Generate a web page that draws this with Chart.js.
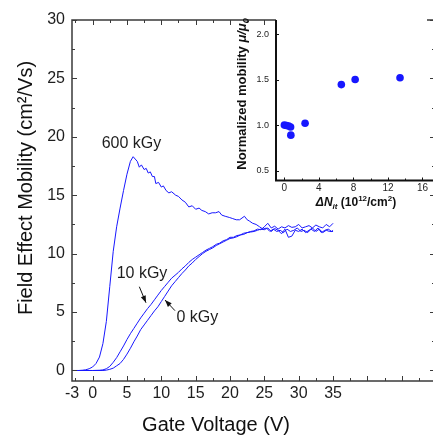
<!DOCTYPE html>
<html>
<head>
<meta charset="utf-8">
<script src="https://cdn.jsdelivr.net/npm/chart.js@4.4.1/dist/chart.umd.min.js"></script>
<style>
  html, body { margin: 0; padding: 0; background: #fff; overflow: hidden; }
  #wrap { position: relative; width: 433px; height: 435px; overflow: hidden; }
  #main  { position: absolute; left: 0;     top: 0; width: 437px; height: 435px; }
  #inset { position: absolute; left: 230px; top: 0; width: 207px; height: 215px; }
</style>
</head>
<body>
<div id="wrap">
  <canvas id="main" width="437" height="435"></canvas>
  <canvas id="inset" width="207" height="215"></canvas>
</div>
<script>
// ---- data: [gate voltage V, mobility cm2/Vs] ----
const mu0kGy = [
  [-3,0],[0,0],[1.5,0],[2,0.03],[2.5,0.1],[3,0.2],[3.5,0.4],[4,0.6],[4.5,0.95],[5,1.4],
  [5.5,1.9],[6,2.45],[6.5,2.95],[7,3.5],[7.5,3.9],[8,4.3],[8.5,4.7],[9,5.1],[9.5,5.45],[10,5.9],
  [10.5,6.35],[11,6.8],[11.5,7.25],[12,7.6],[12.5,7.95],[13,8.3],[13.5,8.6],[14,8.95],[14.5,9.2],[15,9.5],
  [15.5,9.75],[16,10.0],[16.5,10.2],[17,10.35],[17.5,10.5],[18,10.7],[18.5,10.85],[19,11.0],[19.5,11.15],[20,11.3],
  [20.5,11.35],[21,11.45],[21.5,11.6],[22,11.65],[22.5,11.8],[23,11.85],[23.5,11.9],[24,12.0],[24.5,12.1],[25,12.05],
  [25.5,12.2],[26,11.9],[26.5,12.15],[27,12.0],[27.5,11.7],[28,12.1],[28.5,11.4],[29,11.5],[29.5,12.0],[30,11.9],
  [30.5,12.1],[31,11.8],[31.5,12.0],[32,12.2],[32.5,11.9],[33,12.1],[33.5,11.8],[34,12.0],[34.5,11.9],[35,11.9]
];
const mu10kGy = [
  [-3,0],[0,0],[1,0.02],[1.5,0.05],[2,0.15],[2.5,0.35],[3,0.7],[3.5,1.1],[4,1.6],[4.5,2.1],
  [5,2.65],[5.5,3.15],[6,3.6],[6.5,4.05],[7,4.5],[7.5,4.9],[8,5.3],[8.5,5.65],[9,6.05],[9.5,6.45],
  [10,6.85],[10.5,7.2],[11,7.55],[11.5,7.9],[12,8.15],[12.5,8.4],[13,8.7],[13.5,8.95],[14,9.25],[14.5,9.5],
  [15,9.7],[15.5,9.9],[16,10.1],[16.5,10.3],[17,10.45],[17.5,10.6],[18,10.8],[18.5,10.9],[19,11.1],[19.5,11.2],
  [20,11.4],[20.5,11.4],[21,11.55],[21.5,11.6],[22,11.75],[22.5,11.8],[23,11.9],[23.5,11.95],[24,12.1],[24.5,12.05],
  [25,12.3],[25.5,12.6],[26,12.2],[26.5,12.35],[27,12.1],[27.5,12.3],[28,12.2],[28.5,12.4],[29,12.25],[29.5,12.3],
  [30,12.5],[30.5,12.2],[31,12.3],[31.5,12.4],[32,12.2],[32.5,12.45],[33,12.3],[33.5,12.2],[34,12.5],[34.5,12.3],[35,12.6]
];
const mu600kGy = [
  [-3,0],[-2,0],[-1.5,0.02],[-1,0.06],[-0.5,0.15],[0,0.3],[0.5,0.6],[1,1.15],[1.5,2.3],[2,4.2],
  [2.5,7.2],[3,10.2],[3.5,12.3],[4,13.9],[4.5,15.4],[5,16.8],[5.5,17.9],[5.9,18.3],[6.2,18.1],[6.5,17.9],
  [6.8,17.4],[7.1,17.6],[7.5,17.2],[7.8,17.3],[8.1,16.9],[8.4,17.0],[8.7,16.6],[9,16.6],[9.2,16.0],[9.6,16.1],
  [10,15.7],[10.3,15.8],[10.7,15.4],[11.1,15.2],[11.5,15.3],[12.1,15.0],[12.5,14.9],[13,14.6],[13.5,14.4],[14,14.0],
  [14.5,14.1],[15,13.8],[15.5,13.9],[15.9,13.7],[16.4,13.6],[16.9,13.4],[17.4,13.5],[17.9,13.5],[18.4,13.6],[18.8,13.3],
  [19.3,13.2],[19.9,13.1],[20.4,13.0],[20.9,12.9],[21.4,12.9],[22.1,13.2],[22.5,12.9],[22.8,12.8],[23.3,12.6],[23.8,12.5],
  [24.3,12.3],[24.8,12.1],[25.3,12.2],[25.8,11.9],[26.3,12.1],[26.8,11.9],[27.3,12.0],[27.8,11.8],[28.3,12.1],[28.8,11.9],
  [29.3,12.0],[29.8,12.2],[30.3,11.9],[30.8,12.0],[31.3,11.8],[31.8,12.1],[32.3,11.9],[32.8,12.2],[33.3,11.8],[33.8,12.0],
  [34.3,12.1],[34.8,11.9],[35,12.0]
];
const xTickVals = [-3, 0, 5, 10, 15, 20, 25, 30, 35];
const yTickVals = [0, 5, 10, 15, 20, 25, 30];

// inset: [delta N_it (1e12/cm2), normalized mobility]
const insetPts = [
  [0,1.0],[0.25,0.995],[0.5,0.99],[0.72,0.98],[0.75,0.89],[2.4,1.02],[6.6,1.445],[8.2,1.5],[13.4,1.52]
];
const insetXTicks = [0, 4, 8, 12, 16];
const insetYTicks = [0.5, 1.0, 1.5, 2.0];

// annotations in data units: text + arrows
const doseLabels = [
  { text: '600 kGy', x: 1.32, y: 19.05 },
  { text: '10 kGy',  x: 3.5,  y: 7.89 },
  { text: '0 kGy',   x: 12.21, y: 4.15 },
];
const doseArrows = [
  { from: [6.8, 7.17],  to: [7.77, 5.8] },
  { from: [11.99, 5.12], to: [10.54, 6.03] },
];

const FONT = '"Liberation Sans", Arial, sans-serif';
const BLUE = '#1717ff';
const INK  = '#1e1e1e';

const curve = (label, pts) => ({
  label,
  data: pts.map(([x, y]) => ({ x, y })),
  borderColor: BLUE,
  borderWidth: 1,
  pointRadius: 0,
  fill: false,
  tension: 0,
});

const tickSetter = vals => s => { s.ticks = vals.map(v => ({ value: v })); };

// frame with inward major/minor ticks on all four sides
const mainFrame = {
  id: 'mainFrame',
  afterDraw(chart) {
    const { ctx, chartArea: a, scales: { x, y } } = chart;
    ctx.save();
    ctx.strokeStyle = '#3a3a3a';
    ctx.lineWidth = 1.5;
    ctx.strokeRect(a.left, a.top, a.right - a.left, a.bottom - a.top);
    ctx.lineWidth = 1;
    ctx.beginPath();
    for (let v = -2.5; v <= 50; v += 2.5) {
      const len = v % 5 === 0 ? 5 : 3;
      const px = Math.round(x.getPixelForValue(v)) + 0.5;
      ctx.moveTo(px, a.bottom); ctx.lineTo(px, a.bottom - len);
      ctx.moveTo(px, a.top);    ctx.lineTo(px, a.top + len);
    }
    for (let v = 0; v <= 30; v += 2.5) {
      const len = v % 5 === 0 ? 5 : 3;
      const py = Math.round(y.getPixelForValue(v)) + 0.5;
      ctx.moveTo(a.left, py);  ctx.lineTo(a.left + len, py);
      ctx.moveTo(a.right, py); ctx.lineTo(a.right - len, py);
    }
    ctx.stroke();

    // axis titles
    ctx.fillStyle = '#111';
    ctx.font = `20px ${FONT}`;
    ctx.textAlign = 'center';
    ctx.textBaseline = 'alphabetic';
    ctx.fillText('Gate Voltage (V)', 216, 431);
    ctx.save();
    ctx.translate(32, 188);
    ctx.rotate(-Math.PI / 2);
    ctx.fillText('Field Effect Mobility (cm²/Vs)', 0, 0);
    ctx.restore();

    // dose labels and arrows
    ctx.font = `16px ${FONT}`;
    ctx.textAlign = 'left';
    ctx.fillStyle = INK;
    doseLabels.forEach(l => ctx.fillText(l.text, x.getPixelForValue(l.x), y.getPixelForValue(l.y)));
    ctx.strokeStyle = '#111';
    ctx.fillStyle = '#111';
    ctx.lineWidth = 1;
    doseArrows.forEach(({ from, to }) => {
      const x0 = x.getPixelForValue(from[0]), y0 = y.getPixelForValue(from[1]);
      const x1 = x.getPixelForValue(to[0]),   y1 = y.getPixelForValue(to[1]);
      const ang = Math.atan2(y1 - y0, x1 - x0);
      ctx.beginPath(); ctx.moveTo(x0, y0); ctx.lineTo(x1, y1); ctx.stroke();
      ctx.beginPath();
      ctx.moveTo(x1, y1);
      ctx.lineTo(x1 - 7 * Math.cos(ang) + 2.6 * Math.sin(ang), y1 - 7 * Math.sin(ang) - 2.6 * Math.cos(ang));
      ctx.lineTo(x1 - 7 * Math.cos(ang) - 2.6 * Math.sin(ang), y1 - 7 * Math.sin(ang) + 2.6 * Math.cos(ang));
      ctx.closePath(); ctx.fill();
    });
    ctx.restore();
  },
};

new Chart(document.getElementById('main'), {
  type: 'line',
  data: {
    datasets: [curve('0 kGy', mu0kGy), curve('10 kGy', mu10kGy), curve('600 kGy', mu600kGy)],
  },
  options: {
    responsive: false,
    animation: false,
    layout: { padding: { top: 20, right: 2, left: 0, bottom: 0 } },
    plugins: { legend: { display: false }, tooltip: { enabled: false } },
    scales: {
      x: {
        type: 'linear',
        min: -3,
        max: 49.84,
        afterBuildTicks: tickSetter(xTickVals),
        afterFit: s => { s.height = 54; },
        grid: { display: false, drawTicks: false },
        border: { display: false },
        ticks: { color: INK, font: { family: FONT, size: 16 }, padding: 3, maxRotation: 0, autoSkip: false },
      },
      y: {
        type: 'linear',
        min: -0.9,
        max: 30,
        afterBuildTicks: tickSetter(yTickVals),
        afterFit: s => { s.width = 72; },
        grid: { display: false, drawTicks: false },
        border: { display: false },
        ticks: { color: INK, font: { family: FONT, size: 16 }, padding: 7 },
      },
    },
  },
  plugins: [mainFrame],
});

// ---- inset ----
const insetFrame = {
  id: 'insetFrame',
  beforeDraw(chart) {
    const { ctx, chartArea: a } = chart;
    ctx.save();
    ctx.fillStyle = '#fff';
    ctx.fillRect(a.left, 0, a.right - 6 - a.left, a.bottom);
    ctx.restore();
  },
  afterDraw(chart) {
    const { ctx, chartArea: a, scales: { x, y } } = chart;
    ctx.save();
    ctx.strokeStyle = '#111';
    ctx.lineWidth = 2;
    ctx.beginPath();
    ctx.moveTo(a.left, a.top); ctx.lineTo(a.left, a.bottom); ctx.lineTo(a.right + 2, a.bottom);
    ctx.stroke();
    ctx.lineWidth = 1;
    ctx.beginPath();
    insetYTicks.forEach(v => {
      const py = Math.round(y.getPixelForValue(v)) + 0.5;
      ctx.moveTo(a.left, py); ctx.lineTo(a.left + 3, py);
    });
    for (let v = 0; v <= 16; v += 2) {
      const px = Math.round(x.getPixelForValue(v)) + 0.5;
      ctx.moveTo(px, a.bottom); ctx.lineTo(px, a.bottom - (v % 4 === 0 ? 3 : 2));
    }
    ctx.stroke();

    // y title (rotated), with italic mu and subscript 0
    ctx.fillStyle = '#111';
    ctx.textBaseline = 'alphabetic';
    const ySegs = [
      { t: 'Normalized mobility ', f: `bold 13px ${FONT}`, dy: 0 },
      { t: 'μ/μ', f: `italic bold 13px ${FONT}`, dy: 0 },
      { t: '0', f: `italic bold 9px ${FONT}`, dy: 3 },
    ];
    drawSegs(ctx, ySegs, 16, 94, -Math.PI / 2);

    const xSegs = [
      { t: 'ΔN', f: `italic bold 12px ${FONT}`, dy: 0 },
      { t: 'it', f: `italic bold 8px ${FONT}`, dy: 3 },
      { t: ' (10', f: `bold 12px ${FONT}`, dy: 0 },
      { t: '12', f: `bold 8px ${FONT}`, dy: -5 },
      { t: '/cm', f: `bold 12px ${FONT}`, dy: 0 },
      { t: '2', f: `bold 8px ${FONT}`, dy: -5 },
      { t: ')', f: `bold 12px ${FONT}`, dy: 0 },
    ];
    drawSegs(ctx, xSegs, 126, 206, 0);
    ctx.restore();
  },
};

function drawSegs(ctx, segs, cx, cy, rot) {
  let total = 0;
  segs.forEach(s => { ctx.font = s.f; s.w = ctx.measureText(s.t).width; total += s.w; });
  ctx.save();
  ctx.translate(cx, cy);
  ctx.rotate(rot);
  ctx.textAlign = 'left';
  let pos = -total / 2;
  segs.forEach(s => { ctx.font = s.f; ctx.fillText(s.t, pos, s.dy); pos += s.w; });
  ctx.restore();
}

new Chart(document.getElementById('inset'), {
  type: 'scatter',
  data: {
    datasets: [{
      data: insetPts.map(([x, y]) => ({ x, y })),
      pointRadius: 3.8,
      pointBackgroundColor: BLUE,
      pointBorderWidth: 0,
    }],
  },
  options: {
    responsive: false,
    animation: false,
    layout: { padding: { top: 20, right: 2, left: 0, bottom: 0 } },
    plugins: { legend: { display: false }, tooltip: { enabled: false } },
    scales: {
      x: {
        type: 'linear',
        min: -0.97,
        max: 17.22,
        afterBuildTicks: tickSetter(insetXTicks),
        afterFit: s => { s.height = 34.5; },
        grid: { display: false, drawTicks: false },
        border: { display: false },
        ticks: { color: INK, font: { family: FONT, size: 10 }, padding: 2, maxRotation: 0, autoSkip: false },
      },
      y: {
        type: 'linear',
        min: 0.392,
        max: 2.154,
        afterBuildTicks: tickSetter(insetYTicks),
        afterFit: s => { s.width = 46; },
        grid: { display: false, drawTicks: false },
        border: { display: false },
        ticks: { color: INK, font: { family: FONT, size: 9 }, padding: 7, callback: v => v.toFixed(1) },
      },
    },
  },
  plugins: [insetFrame],
});
</script>
</body>
</html>
